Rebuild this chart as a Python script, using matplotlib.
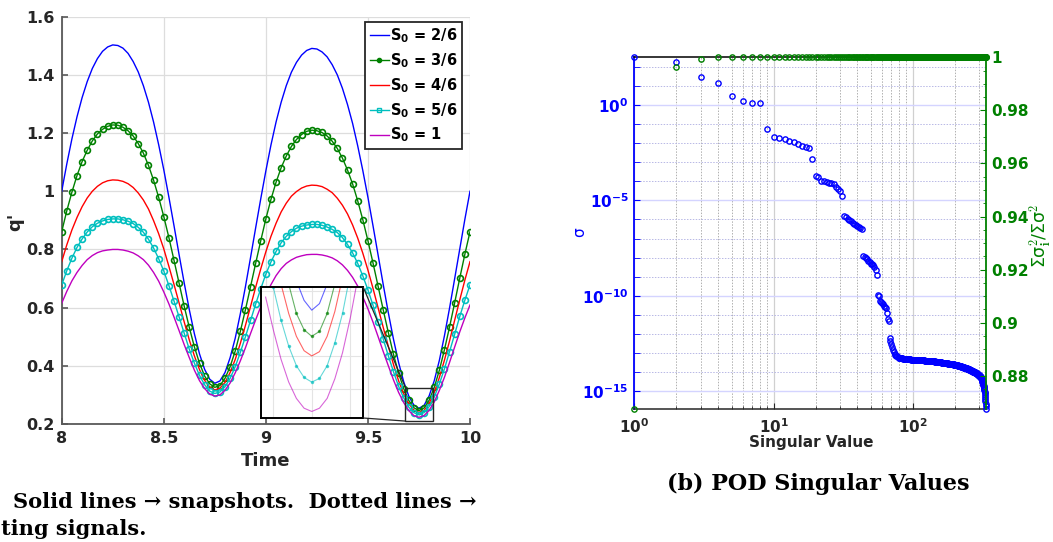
import numpy as np
import matplotlib
matplotlib.use("Agg")
import matplotlib.pyplot as plt
from matplotlib.ticker import FixedLocator, FixedFormatter, NullFormatter
from matplotlib.patches import Rectangle, ConnectionPatch
from matplotlib.lines import Line2D

plt.rcParams['font.family'] = ['DejaVu Sans']
plt.rcParams['mathtext.default'] = 'regular'

# ---------------- data: panel (a) ----------------
time = np.round(8.0 + 0.025 * np.arange(81), 3)

q_s2 = [1.000, 1.094, 1.180, 1.256, 1.322, 1.377, 1.422, 1.456, 1.481, 1.496, 1.503,
        1.501, 1.492, 1.474, 1.446, 1.410, 1.363, 1.306, 1.238, 1.160, 1.074, 0.980, 0.882,
        0.782, 0.685, 0.593, 0.510, 0.441, 0.388, 0.354, 0.340,
        0.348, 0.377, 0.428, 0.495, 0.579, 0.672, 0.772, 0.874, 0.974, 1.070, 1.159, 1.238,
        1.306, 1.363, 1.409, 1.443, 1.468, 1.484, 1.491,
        1.489, 1.479, 1.462, 1.435, 1.400, 1.354, 1.298, 1.233, 1.156, 1.071, 0.979, 0.881,
        0.780, 0.679, 0.582, 0.492, 0.412, 0.346, 0.296, 0.265, 0.254,
        0.264, 0.297, 0.349, 0.419, 0.504, 0.599, 0.700, 0.802, 0.904, 1.000]

q_s3 = [0.861, 0.933, 0.997, 1.054, 1.102, 1.141, 1.173, 1.197, 1.213, 1.223, 1.228,
        1.227, 1.220, 1.208, 1.190, 1.164, 1.131, 1.089, 1.038, 0.979, 0.913, 0.841, 0.763,
        0.684, 0.605, 0.532, 0.465, 0.409, 0.365, 0.338, 0.326,
        0.332, 0.357, 0.397, 0.451, 0.518, 0.593, 0.672, 0.752, 0.830, 0.905, 0.972, 1.031,
        1.081, 1.121, 1.154, 1.178, 1.195, 1.206, 1.210,
        1.208, 1.202, 1.190, 1.172, 1.147, 1.114, 1.073, 1.025, 0.967, 0.902, 0.830, 0.753,
        0.673, 0.592, 0.514, 0.440, 0.375, 0.322, 0.281, 0.256, 0.246,
        0.255, 0.282, 0.326, 0.385, 0.456, 0.534, 0.617, 0.702, 0.784, 0.861]

q_s4 = [0.758, 0.816, 0.867, 0.910, 0.947, 0.977, 1.000, 1.017, 1.029, 1.036, 1.039,
        1.038, 1.034, 1.026, 1.013, 0.994, 0.970, 0.939, 0.899, 0.854, 0.802, 0.742, 0.680,
        0.616, 0.551, 0.489, 0.434, 0.387, 0.350, 0.327, 0.317,
        0.323, 0.343, 0.377, 0.422, 0.477, 0.539, 0.604, 0.670, 0.733, 0.792, 0.845, 0.890,
        0.929, 0.959, 0.983, 0.999, 1.011, 1.018, 1.021,
        1.020, 1.016, 1.007, 0.995, 0.976, 0.952, 0.922, 0.884, 0.839, 0.787, 0.729, 0.666,
        0.599, 0.532, 0.467, 0.405, 0.349, 0.304, 0.270, 0.248, 0.240,
        0.247, 0.271, 0.309, 0.360, 0.420, 0.486, 0.557, 0.627, 0.695, 0.758]

q_s5 = [0.678, 0.727, 0.770, 0.807, 0.836, 0.860, 0.878, 0.890, 0.898, 0.903, 0.905,
        0.905, 0.902, 0.897, 0.889, 0.876, 0.859, 0.835, 0.805, 0.768, 0.726, 0.676, 0.623,
        0.568, 0.512, 0.457, 0.409, 0.367, 0.335, 0.313, 0.305,
        0.310, 0.328, 0.357, 0.397, 0.446, 0.500, 0.556, 0.612, 0.665, 0.715, 0.757, 0.793,
        0.823, 0.845, 0.861, 0.873, 0.880, 0.884, 0.886,
        0.886, 0.883, 0.877, 0.869, 0.858, 0.841, 0.817, 0.788, 0.752, 0.709, 0.661, 0.608,
        0.550, 0.492, 0.434, 0.380, 0.330, 0.290, 0.258, 0.239, 0.232,
        0.239, 0.260, 0.293, 0.338, 0.390, 0.449, 0.509, 0.570, 0.626, 0.678]

q_s6 = [0.615, 0.656, 0.692, 0.721, 0.745, 0.765, 0.779, 0.789, 0.795, 0.798, 0.800,
        0.800, 0.798, 0.794, 0.788, 0.778, 0.765, 0.746, 0.721, 0.691, 0.654, 0.613, 0.568,
        0.521, 0.473, 0.428, 0.385, 0.349, 0.322, 0.303, 0.296,
        0.300, 0.316, 0.341, 0.376, 0.417, 0.462, 0.511, 0.558, 0.603, 0.644, 0.679, 0.710,
        0.734, 0.752, 0.764, 0.773, 0.778, 0.782, 0.783,
        0.783, 0.781, 0.777, 0.771, 0.761, 0.747, 0.728, 0.704, 0.674, 0.637, 0.596, 0.550,
        0.500, 0.449, 0.400, 0.352, 0.309, 0.274, 0.246, 0.229, 0.223,
        0.229, 0.247, 0.276, 0.316, 0.361, 0.412, 0.465, 0.517, 0.565, 0.609]

# zoomed-in samples around the second minimum (inset)
zoom_time = [9.69, 9.70, 9.71, 9.72, 9.73, 9.74, 9.75, 9.76, 9.77, 9.78, 9.79, 9.80, 9.81]
zoom_s2 = [0.331, 0.308, 0.289, 0.274, 0.263, 0.257, 0.254, 0.256, 0.262, 0.274, 0.289, 0.309, 0.333]
zoom_s3 = [0.306, 0.288, 0.274, 0.262, 0.253, 0.248, 0.246, 0.2475, 0.253, 0.262, 0.275, 0.2915, 0.311]
zoom_s4 = [0.289, 0.274, 0.262, 0.253, 0.246, 0.2416, 0.240, 0.2413, 0.246, 0.2536, 0.264, 0.278, 0.295]
zoom_s5 = [0.273, 0.261, 0.251, 0.243, 0.237, 0.2334, 0.232, 0.2331, 0.237, 0.244, 0.253, 0.265, 0.279]
zoom_s6 = [0.258, 0.248, 0.239, 0.232, 0.227, 0.224, 0.223, 0.224, 0.227, 0.233, 0.241, 0.2515, 0.264]

legend_labels = [r'$\mathbf{S}_{\mathbf{0}}$ = 2/6', r'$\mathbf{S}_{\mathbf{0}}$ = 3/6',
                 r'$\mathbf{S}_{\mathbf{0}}$ = 4/6', r'$\mathbf{S}_{\mathbf{0}}$ = 5/6',
                 r'$\mathbf{S}_{\mathbf{0}}$ = 1']

# ---------------- data: panel (b) ----------------
log_sigma_head = [2.50, 2.25, 1.45, 1.14, 0.49, 0.21, 0.10, 0.09,
                  -1.27, -1.67, -1.74, -1.78, -1.90, -1.94, -2.04, -2.13, -2.20, -2.23, -2.84]
log_sigma_c2 = [-3.70, -3.75, -3.96, -4.00, -4.04, -4.10, -4.11, -4.16, -4.28, -4.38, -4.49, -4.77]
log_sigma_c3 = [-5.82, -5.87, -5.95, -6.03, -6.10, -6.18, -6.24, -6.31, -6.36, -6.42, -6.44, -6.49]
log_sigma_c4 = [-7.93, -7.96, -8.03, -8.09, -8.18, -8.25, -8.31, -8.35, -8.40, -8.49, -8.63, -8.93]
log_sigma_c5 = [-9.98, -10.03, -10.28, -10.35, -10.40, -10.45, -10.53, -10.60, -10.66, -10.92, -11.20, -11.33]
log_sigma_c6 = [-12.22, -12.35, -12.52, -12.70, -12.84, -12.96, -13.04, -13.09, -13.14, -13.18, -13.21, -13.24]
log_sigma_tail = [
    -13.27, -13.27, -13.28, -13.28, -13.28, -13.29, -13.29, -13.29, -13.30, -13.30,
    -13.31, -13.31, -13.31, -13.32, -13.32, -13.33, -13.33, -13.34, -13.34, -13.35,
    -13.35, -13.35, -13.35, -13.36, -13.36, -13.36, -13.36, -13.37, -13.37, -13.37,
    -13.37, -13.37, -13.38, -13.38, -13.38, -13.38, -13.38, -13.39, -13.39, -13.39,
    -13.39, -13.39, -13.40, -13.40, -13.40, -13.40, -13.40, -13.41, -13.41, -13.41,
    -13.41, -13.41, -13.42, -13.42, -13.42, -13.42, -13.42, -13.43, -13.43, -13.43,
    -13.43, -13.44, -13.44, -13.44, -13.45, -13.45, -13.45, -13.46, -13.46, -13.46,
    -13.46, -13.47, -13.47, -13.47, -13.48, -13.48, -13.48, -13.49, -13.49, -13.49,
    -13.49, -13.50, -13.50, -13.50, -13.51, -13.51, -13.51, -13.51, -13.52, -13.52,
    -13.52, -13.52, -13.53, -13.53, -13.53,
    -13.53, -13.54, -13.54, -13.54, -13.55, -13.55, -13.55, -13.56, -13.56, -13.56,
    -13.57, -13.57, -13.57, -13.58, -13.58, -13.58, -13.59, -13.59, -13.59, -13.60,
    -13.60, -13.60, -13.61, -13.61, -13.61, -13.62, -13.62, -13.62, -13.63, -13.63,
    -13.64, -13.64, -13.64, -13.65, -13.65, -13.65, -13.66, -13.66, -13.66, -13.67,
    -13.67, -13.67, -13.68,
    -13.68, -13.69, -13.69, -13.70, -13.70, -13.71, -13.71, -13.72, -13.72, -13.73,
    -13.73, -13.74, -13.74, -13.75, -13.75, -13.76, -13.76, -13.77, -13.77, -13.78,
    -13.78, -13.79, -13.79, -13.80, -13.80, -13.81, -13.81, -13.82, -13.82, -13.83,
    -13.83, -13.84, -13.84, -13.85, -13.85, -13.86, -13.86, -13.87, -13.87,
    -13.88, -13.89, -13.89, -13.90, -13.91, -13.91, -13.92, -13.92, -13.93, -13.94,
    -13.94, -13.95, -13.95, -13.96, -13.97, -13.97, -13.98, -13.98, -13.99, -14.00,
    -14.00, -14.01, -14.02, -14.02, -14.03, -14.04, -14.04, -14.05, -14.06, -14.06,
    -14.07, -14.08, -14.09, -14.10, -14.10, -14.11, -14.12, -14.13, -14.14, -14.15,
    -14.16, -14.17, -14.18, -14.19, -14.20, -14.21, -14.22, -14.23, -14.24, -14.26,
    -14.27, -14.29, -14.31, -14.33, -14.35,
    -14.38, -14.41, -14.44, -14.47, -14.50, -14.53, -14.57, -14.60, -14.64, -14.68,
    -14.73, -14.78, -14.83, -14.89, -14.95, -15.02, -15.10, -15.19, -15.30, -15.42,
    -15.54, -15.66, -15.80, -15.95]

energy_head = [0.8674, 0.9964, 0.9992]

# ---------------- styling constants ----------------
DARK = '#262626'
C_BLUE = '#0000ff'
C_GREEN = '#008000'
C_RED = '#ff0000'
C_CYAN = '#00bfbf'
C_MAG = '#bf00bf'
W, H = 1053, 542

fig = plt.figure(figsize=(W / 100, H / 100), dpi=100)

# ================= panel (a) =================
ax = fig.add_axes([61.7 / W, (H - 424) / H, 408.3 / W, 407.3 / H])
series = [q_s2, q_s3, q_s4, q_s5, q_s6]
colors = [C_BLUE, C_GREEN, C_RED, C_CYAN, C_MAG]
markers = [None, 'o', None, 'o', None]
for vals, c, m in zip(series, colors, markers):
    if m is None:
        ax.plot(time, vals, color=c, lw=1.0, zorder=3)
    else:
        ax.plot(time, vals, color=c, lw=1.0, marker='o', ms=4.2, mfc='none',
                mew=1.2, zorder=3)

ax.set_xlim(8, 10)
ax.set_ylim(0.2, 1.6)
ax.xaxis.set_major_locator(FixedLocator([8, 8.5, 9, 9.5, 10]))
ax.set_xticklabels(['8', '8.5', '9', '9.5', '10'])
ax.yaxis.set_major_locator(FixedLocator([0.2, 0.4, 0.6, 0.8, 1.0, 1.2, 1.4, 1.6]))
ax.set_yticklabels(['0.2', '0.4', '0.6', '0.8', '1', '1.2', '1.4', '1.6'])
ax.grid(True, color='#dddddd', lw=0.9, zorder=0)
ax.set_axisbelow(True)
for s in ['top', 'right']:
    ax.spines[s].set_visible(False)
for s in ['left', 'bottom']:
    ax.spines[s].set_color('#595959')
    ax.spines[s].set_linewidth(1.3)
ax.tick_params(direction='in', length=4, width=1.2, color='#595959', labelcolor=DARK,
               labelsize=11.5, pad=5)
for lab in ax.get_xticklabels() + ax.get_yticklabels():
    lab.set_fontweight('bold')
fig.text(266 / W, 1 - 461 / H, 'Time', fontsize=13, fontweight='bold', color=DARK,
         ha='center', va='center')
fig.text(15 / W, 1 - 222 / H, "q'", fontsize=13, fontweight='bold', color=DARK,
         ha='center', va='center', rotation=90)

handles = [Line2D([], [], color=C_BLUE, lw=1.0),
           Line2D([], [], color=C_GREEN, lw=1.0, marker='o', ms=3, mfc=C_GREEN),
           Line2D([], [], color=C_RED, lw=1.0),
           Line2D([], [], color=C_CYAN, lw=1.0, marker='s', ms=3, mfc='none'),
           Line2D([], [], color=C_MAG, lw=1.0)]
leg = ax.legend(handles, legend_labels, loc='upper right',
                bbox_to_anchor=((462 - 61.7) / 408.3, (424 - 22) / 407.3),
                borderaxespad=0, fancybox=False, framealpha=1, edgecolor=DARK,
                prop={'weight': 'bold', 'size': 10.5}, handlelength=1.3,
                handletextpad=0.1, labelspacing=0.42, borderpad=0.3, numpoints=1)
leg.get_frame().set_linewidth(1.3)
leg.set_zorder(10)

# zoom rectangle in main axes
rx0, rx1, ry0, ry1 = 9.684, 9.817, 0.210, 0.325
ax.add_patch(Rectangle((rx0, ry0), rx1 - rx0, ry1 - ry0, fill=False, ec=DARK, lw=1.0,
                       zorder=6))

# inset
axi = fig.add_axes([261 / W, (H - 418) / H, 102.3 / W, 130.7 / H])
zseries = [zoom_s2, zoom_s3, zoom_s4, zoom_s5, zoom_s6]
for vals, c, m in zip(zseries, colors, markers):
    axi.plot(zoom_time, vals, color=c, lw=0.8, alpha=0.6,
             marker='.' if m else None, ms=3)
axi.set_xlim(rx0, rx1)
axi.set_ylim(0.221, 0.261)
axi.xaxis.set_major_locator(FixedLocator([9.70, 9.75, 9.80]))
axi.yaxis.set_major_locator(FixedLocator([0.23, 0.24, 0.25, 0.26]))
axi.tick_params(length=0, labelbottom=False, labelleft=False)
axi.grid(True, color='#e4e4e4', lw=0.8)
for s in axi.spines.values():
    s.set_color('black')
    s.set_linewidth(1.4)
for xa, ya in [(1, 1), (1, 0)]:
    con = ConnectionPatch(xyA=(xa, ya), coordsA=axi.transAxes,
                          xyB=(rx0, ry1 if ya == 1 else ry0), coordsB=ax.transData,
                          color=DARK, lw=0.9)
    fig.add_artist(con)

# ================= panel (b) =================
log_sigma = (log_sigma_head + log_sigma_c2 + log_sigma_c3 + log_sigma_c4 +
             log_sigma_c5 + log_sigma_c6 + log_sigma_tail)
sigma = 10.0 ** np.array(log_sigma)
mode = np.arange(1, len(sigma) + 1)
energy = energy_head + [1.0] * (len(sigma) - len(energy_head))

ax2 = fig.add_axes([634.3 / W, (H - 409.3) / H, (986 - 634.3) / W, (409.3 - 57.3) / H])
ax2.set_xscale('log')
ax2.set_yscale('log')
ax2.plot(mode, sigma, 'o', mfc='none', mec=C_BLUE, ms=3.8, mew=1.0, clip_on=False,
         zorder=3)
ax2.set_xlim(1, mode[-1])
ax2.set_ylim(sigma.min(), sigma.max())
ax2.xaxis.set_major_locator(FixedLocator([1, 10, 100]))
ax2.xaxis.set_major_formatter(FixedFormatter([r'$\mathbf{10^{0}}$', r'$\mathbf{10^{1}}$',
                                              r'$\mathbf{10^{2}}$']))
ax2.xaxis.set_minor_locator(FixedLocator([2, 3, 4, 5, 6, 7, 8, 9, 20, 30, 40, 50, 60,
                                          70, 80, 90, 200, 300]))
ax2.xaxis.set_minor_formatter(NullFormatter())
ax2.yaxis.set_major_locator(FixedLocator([1e-15, 1e-10, 1e-5, 1e0]))
ax2.yaxis.set_major_formatter(FixedFormatter([r'$\mathbf{10^{-15}}$', r'$\mathbf{10^{-10}}$',
                                              r'$\mathbf{10^{-5}}$', r'$\mathbf{10^{0}}$']))
ax2.yaxis.set_minor_locator(FixedLocator([10.0 ** k for k in range(-15, 3)]))
ax2.yaxis.set_minor_formatter(NullFormatter())
ax2.grid(True, which='major', axis='x', color='#d0d0d0', lw=0.9, ls='-')
ax2.grid(True, which='minor', axis='x', color='#b0b0b0', lw=0.7, ls=(0, (1.5, 1.5)))
ax2.grid(True, which='major', axis='y', color='#d4d4ff', lw=1.0, ls='-')
ax2.grid(True, which='minor', axis='y', color='#b8b8e6', lw=0.7, ls=(0, (1.5, 1.5)))
ax2.set_axisbelow(True)
ax2.tick_params(axis='x', which='both', direction='in', color=DARK, labelcolor=DARK,
                labelsize=11, pad=6)
ax2.tick_params(axis='x', which='major', length=4)
ax2.tick_params(axis='x', which='minor', length=2.5)
ax2.tick_params(axis='y', which='both', direction='in', color=C_BLUE, labelcolor=C_BLUE,
                labelsize=11, length=4, pad=4)
ax2.spines['left'].set_color(C_BLUE)
ax2.spines['left'].set_linewidth(1.3)
ax2.spines['bottom'].set_color(DARK)
ax2.spines['bottom'].set_linewidth(1.1)
ax2.spines['top'].set_color('black')
ax2.spines['top'].set_linewidth(1.1)
ax2.spines['right'].set_visible(False)

ax3 = ax2.twinx()
ax3.plot(mode, energy, 'o', mfc='none', mec=C_GREEN, ms=3.8, mew=1.0, clip_on=False,
         zorder=3)
ax3.set_ylim(energy_head[0], 1.0)
ax3.yaxis.set_major_locator(FixedLocator([0.88, 0.90, 0.92, 0.94, 0.96, 0.98, 1.0]))
ax3.yaxis.set_major_formatter(FixedFormatter(['0.88', '0.9', '0.92', '0.94', '0.96',
                                              '0.98', '1']))
ax3.yaxis.set_minor_locator(FixedLocator([0.87 + 0.005 * k for k in range(27)]))
ax3.tick_params(axis='y', which='both', direction='in', color=C_GREEN,
                labelcolor=C_GREEN, labelsize=11, pad=4)
ax3.tick_params(axis='y', which='major', length=4)
ax3.tick_params(axis='y', which='minor', length=2.5)
for lab in ax3.get_yticklabels():
    lab.set_fontweight('bold')
ax3.spines['right'].set_color(C_GREEN)
ax3.spines['right'].set_linewidth(1.3)
for s in ['left', 'top', 'bottom']:
    ax3.spines[s].set_visible(False)

fig.text(811 / W, 1 - 443 / H, 'Singular Value', fontsize=11, fontweight='bold',
         color=DARK, ha='center', va='center')
fig.text(580.5 / W, 1 - 232 / H, r'$\sigma$', fontsize=11, color=C_BLUE, rotation=90,
         ha='center', va='center', math_fontfamily='cm')
fig.text(1040 / W, 1 - 236 / H,
         r'$\Sigma\sigma_{\mathbf{i}}^{\mathbf{2}}/\Sigma\sigma^{\mathbf{2}}$',
         fontsize=12.5, color=C_GREEN, rotation=90, ha='center', va='center',
         math_fontfamily='cm')

# ---------------- captions ----------------
serif = ['DejaVu Serif']
fig.text(818 / W, 1 - 490 / H, '(b) POD Singular Values', fontsize=16,
         fontweight='bold', family=serif, ha='center', va='baseline', color='black')
fig.text(13 / W, 1 - 508 / H, 'Solid lines \u2192 snapshots.  Dotted lines \u2192',
         fontsize=15.1, fontweight='bold', family=serif, ha='left', va='baseline',
         color='black')
fig.text(1 / W, 1 - 535 / H, 'ting signals.', fontsize=15.1, fontweight='bold',
         family=serif, ha='left', va='baseline', color='black')

fig.savefig('out.png', dpi=100)
